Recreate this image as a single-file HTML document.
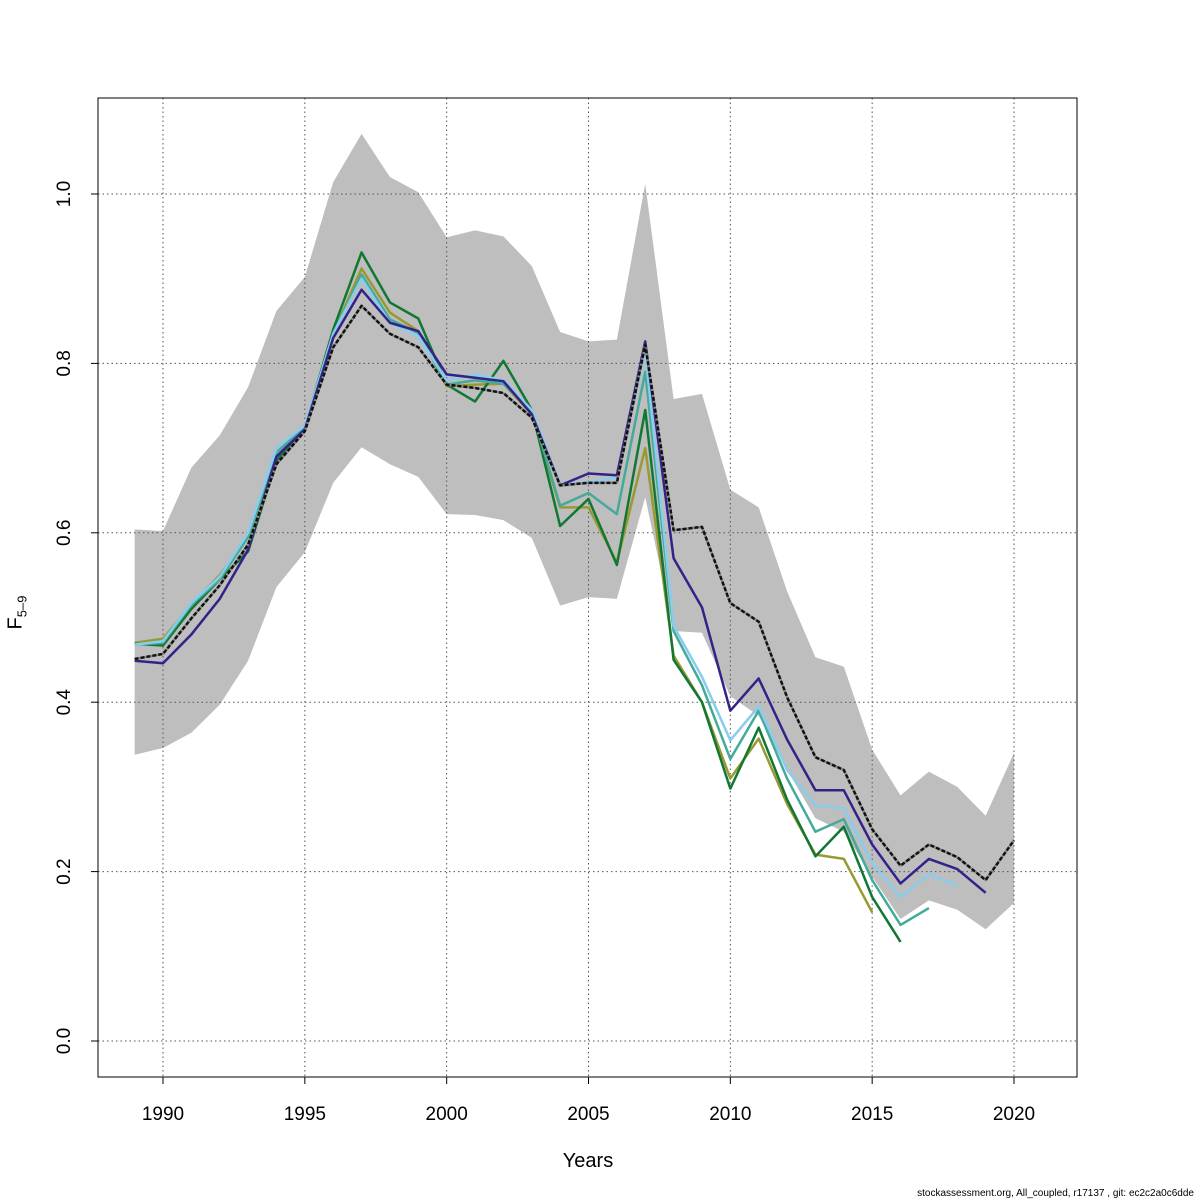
<!DOCTYPE html>
<html><head><meta charset="utf-8"><style>
body{margin:0;background:#fff;}
svg{display:block;font-family:"Liberation Sans",sans-serif;}
</style></head><body>
<svg id="chart" width="1200" height="1200"></svg>
<script>
const years=[];for(let y=1989;y<=2020;y++)years.push(y);
const upper=[0.604,0.602,0.677,0.715,0.772,0.862,0.902,1.014,1.071,1.020,1.002,0.949,0.957,0.950,0.915,0.837,0.826,0.828,1.012,0.758,0.764,0.651,0.630,0.531,0.453,0.442,0.344,0.290,0.318,0.300,0.266,0.340];
const lower=[0.338,0.346,0.364,0.397,0.449,0.536,0.577,0.659,0.701,0.681,0.666,0.622,0.621,0.615,0.594,0.514,0.524,0.522,0.642,0.484,0.482,0.407,0.384,0.320,0.263,0.247,0.194,0.144,0.166,0.155,0.132,0.163];
const mainF=[0.451,0.457,0.499,0.538,0.586,0.681,0.720,0.819,0.868,0.835,0.819,0.775,0.771,0.765,0.736,0.656,0.659,0.659,0.822,0.603,0.607,0.517,0.495,0.406,0.335,0.320,0.250,0.207,0.232,0.217,0.190,0.237];
const purple=[0.449,0.446,0.48,0.522,0.58,0.69,0.722,0.83,0.887,0.848,0.838,0.787,0.783,0.779,0.74,0.656,0.67,0.668,0.826,0.57,0.512,0.39,0.428,0.356,0.296,0.296,0.232,0.186,0.215,0.203,0.175];
const lightblue=[0.468,0.472,0.517,0.548,0.60,0.70,0.727,0.835,0.90,0.848,0.832,0.78,0.787,0.78,0.745,0.657,0.66,0.665,0.815,0.49,0.43,0.355,0.395,0.32,0.278,0.275,0.21,0.17,0.197,0.183];
const teal=[0.468,0.47,0.515,0.545,0.595,0.695,0.725,0.835,0.905,0.852,0.836,0.775,0.78,0.776,0.744,0.632,0.647,0.622,0.79,0.484,0.42,0.333,0.39,0.31,0.247,0.262,0.19,0.137,0.157];
const darkgreen=[0.469,0.467,0.51,0.545,0.578,0.685,0.725,0.84,0.931,0.872,0.853,0.775,0.755,0.803,0.745,0.608,0.64,0.562,0.745,0.45,0.4,0.298,0.37,0.285,0.218,0.253,0.17,0.117];
const olive=[0.47,0.475,0.515,0.55,0.595,0.69,0.725,0.835,0.912,0.86,0.838,0.773,0.775,0.776,0.74,0.63,0.63,0.565,0.7,0.455,0.4,0.31,0.357,0.28,0.22,0.215,0.152];
const xTicks=[1990,1995,2000,2005,2010,2015,2020];
const yTicks=[0.0,0.2,0.4,0.6,0.8,1.0];
const yTickLabels=["0.0","0.2","0.4","0.6","0.8","1.0"];

const NS="http://www.w3.org/2000/svg";
const svg=document.getElementById('chart');
const X=y=>163+(y-1990)*(851/30);
const Y=v=>1041-v*847;
function mk(tag,attrs,parent){const e=document.createElementNS(NS,tag);for(const k in attrs)e.setAttribute(k,attrs[k]);(parent||svg).appendChild(e);return e;}

let pts=years.map((y,i)=>X(y)+','+Y(upper[i]));
for(let i=years.length-1;i>=0;i--)pts.push(X(years[i])+','+Y(lower[i]));
const band=mk('polygon',{points:pts.join(' '),fill:'#bebebe',stroke:'none'});



xTicks.forEach(t=>{const g=mk('line',{x1:X(t),x2:X(t),y1:98,y2:1077,stroke:'#555','stroke-dasharray':'1.5,3','stroke-width':1});

});
yTicks.forEach(t=>{const g=mk('line',{x1:98,x2:1077,y1:Y(t),y2:Y(t),stroke:'#555','stroke-dasharray':'1.5,3','stroke-width':1});

});

function line(arr,color,name,dash){
 const p=arr.map((v,i)=>X(years[i])+','+Y(v)).join(' ');
 const l=mk('polyline',{points:p,fill:'none',stroke:color,'stroke-width':2.5,'stroke-linejoin':'round'});
 if(dash)l.setAttribute('stroke-dasharray',dash);
 
 
}
line(olive,'#999933','series-olive');
line(darkgreen,'#117733','series-dark-green');
line(teal,'#44aa99','series-teal');
line(lightblue,'#88ccee','series-light-blue');
line(purple,'#332288','series-purple');
line(mainF,'#8a8a8a','series-main-under');
line(mainF,'#111','series-main-dashed','4,2');

const box=mk('rect',{x:98,y:98,width:979,height:979,fill:'none',stroke:'#000','stroke-width':1});



xTicks.forEach(t=>{mk('line',{x1:X(t),x2:X(t),y1:1077,y2:1084,stroke:'#000'});
const tx=mk('text',{x:X(t),y:1120,'text-anchor':'middle','font-size':19});tx.textContent=t;

});
yTicks.forEach((t,i)=>{mk('line',{x1:91,x2:98,y1:Y(t),y2:Y(t),stroke:'#000'});
const tx=mk('text',{x:70,y:Y(t),'text-anchor':'middle','font-size':19,transform:`rotate(-90 70 ${Y(t)})`});tx.textContent=yTickLabels[i];

});
</script>
<div style="position:absolute;left:0;top:0;width:1200px;height:1200px;pointer-events:none;font-family:'Liberation Sans',sans-serif;">
<div style="position:absolute;left:540px;top:1150px;width:96px;text-align:center;font-size:20px;">Years</div>
<div style="position:absolute;left:-8px;top:600px;font-size:20px;transform:rotate(-90deg);transform-origin:center;width:50px;text-align:center;">F<sub style="font-size:13px">5–9</sub></div>
<div style="position:absolute;right:6px;top:1188px;font-size:10px;">stockassessment.org, All_coupled, r17137 , git: ec2c2a0c6dde</div>
</div>
</body></html>
